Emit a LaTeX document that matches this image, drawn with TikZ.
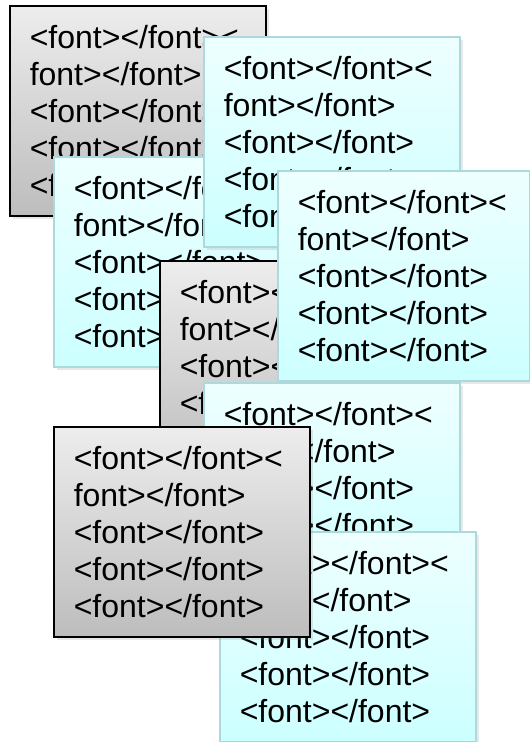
\documentclass[tikz,border=0pt]{standalone}
\usepackage{fontspec}
\setmainfont{Liberation Sans}
\usetikzlibrary{shadows}
\definecolor{graytop}{HTML}{EDEDED}
\definecolor{graybot}{HTML}{BDBDBD}
\definecolor{cyantop}{HTML}{EEFFFF}
\definecolor{cyanbot}{HTML}{CCFFFF}
\definecolor{cyanline}{HTML}{AED9DC}
\tikzset{
  card/.style={anchor=north west, minimum height=210pt, inner xsep=20pt, inner ysep=2pt,
    align=left, text width=#1, font=\fontsize{32}{37}\selectfont, text=black,
    line width=1.5pt,
    drop shadow={shadow xshift=3pt, shadow yshift=-3pt, opacity=0.18},
    drop shadow={shadow xshift=1.5pt, shadow yshift=-1.5pt, opacity=0.18}},
  card/.default=216pt,
  graycard/.style={card=#1, draw=black, top color=graytop, bottom color=graybot},
  graycard/.default=216pt,
  cyancard/.style={card=#1, draw=cyanline, top color=cyantop, bottom color=cyanbot},
  cyancard/.default=216pt
}
\newcommand{\cardtext}{<font></font><\\font></font>\\<font></font>\\<font></font>\\<font></font>}
\begin{document}
\begin{tikzpicture}[x=1pt,y=-1pt]
\useasboundingbox (0,0) rectangle (530,742);
\node[graycard] (b1) at (9,5) {\cardtext};
\node[cyancard] (b3) at (53,156) {\cardtext};
\node[cyancard] (b2) at (203,36) {\cardtext};
\node[graycard] (b4) at (159,260) {\cardtext};
\node[cyancard=212pt] (b5) at (277,170) {\cardtext};
\node[cyancard] (b6) at (203,382) {\cardtext};
\node[cyancard] (b8) at (219,531) {\cardtext};
\node[graycard] (b7) at (53,426) {\cardtext};
\end{tikzpicture}
\end{document}
